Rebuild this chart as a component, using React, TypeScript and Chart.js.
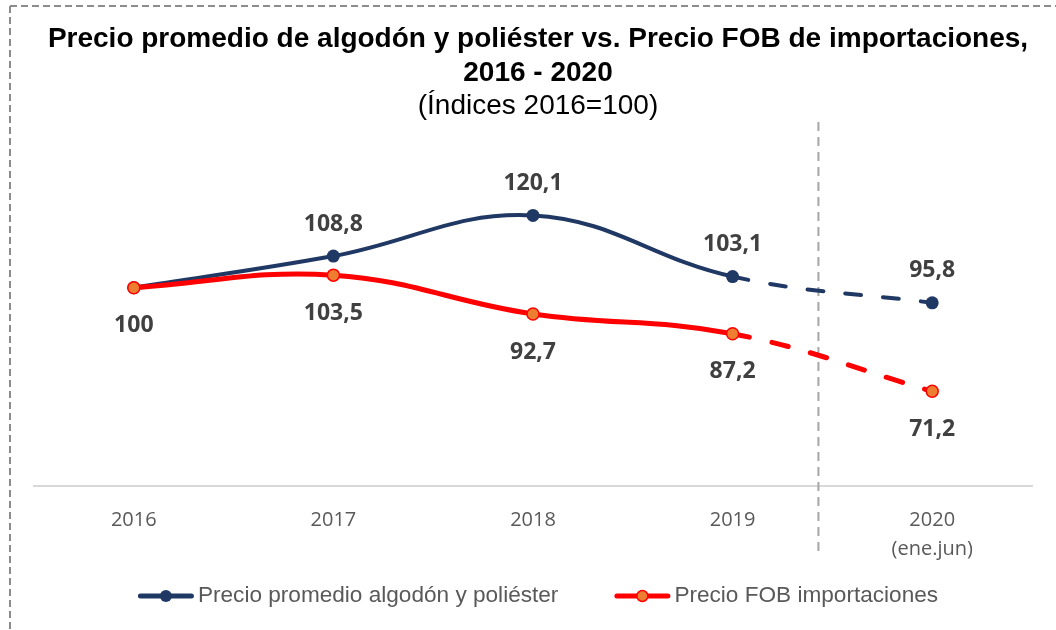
import { useEffect, useRef } from "react";
import { Chart, registerables } from "chart.js";

Chart.register(...registerables);

// ---- data ----
const CATEGORIES: (string | string[])[] = ["2016", "2017", "2018", "2019", ["2020", "(ene.jun)"]];
const ALGODON_POLIESTER = [100, 108.8, 120.1, 103.1, 95.8];
const FOB_IMPORTACIONES = [100, 103.5, 92.7, 87.2, 71.2];
const SERIES_NAMES = ["Precio promedio algodón y poliéster", "Precio FOB importaciones"];
const TITLE_LINES = [
  "Precio promedio de algodón y poliéster vs. Precio FOB de importaciones,",
  "2016 - 2020",
];
const SUBTITLE = "(Índices 2016=100)";

// ---- scale / styling ----
const Y_MIN = 45;
const Y_MAX = 145;
const PARTIAL_FROM = 3; // segments starting here are the partial-year (dashed) part
const DIVIDER_AT = 3.43; // category position of the vertical separator
const NAVY = "#203864";
const RED = "#FF0000";
const ORANGE = "#ED7D31";
const LABEL_GREY = "#404040";
const AXIS_GREY = "#595959";

const fmt = (v: number) => String(v).replace(".", ",");

// dashed frame around the whole figure (top and left edges)
const framePlugin = {
  id: "frame",
  beforeDraw(chart: any) {
    const { ctx, width, height } = chart;
    ctx.save();
    ctx.strokeStyle = "#8C8C8C";
    ctx.lineWidth = 2;
    ctx.setLineDash([7, 4]);
    ctx.beginPath();
    ctx.moveTo(10, 6);
    ctx.lineTo(width, 6);
    ctx.moveTo(10, 6);
    ctx.lineTo(10, height);
    ctx.stroke();
    ctx.restore();
  },
};

// vertical dashed separator before the partial year
const dividerPlugin = {
  id: "divider",
  beforeDatasetsDraw(chart: any) {
    const { ctx, chartArea, scales } = chart;
    const x0 = scales.x.getPixelForValue(Math.floor(DIVIDER_AT));
    const x1 = scales.x.getPixelForValue(Math.ceil(DIVIDER_AT));
    const x = x0 + (x1 - x0) * (DIVIDER_AT - Math.floor(DIVIDER_AT));
    ctx.save();
    ctx.strokeStyle = "#A6A6A6";
    ctx.lineWidth = 2;
    ctx.setLineDash([9, 6]);
    ctx.beginPath();
    ctx.moveTo(x, chartArea.top - 4);
    ctx.lineTo(x, chartArea.bottom + 71);
    ctx.stroke();
    ctx.restore();
  },
};

// value labels above (navy) / below (red) each point
const valueLabelPlugin = {
  id: "valueLabels",
  afterDatasetsDraw(chart: any) {
    const { ctx } = chart;
    ctx.save();
    ctx.font = "bold 23px 'Open Sans'";
    ctx.fillStyle = LABEL_GREY;
    ctx.textAlign = "center";
    ctx.textBaseline = "middle";
    chart.data.datasets.forEach((ds: any, i: number) => {
      const meta = chart.getDatasetMeta(i);
      const hidden: number[] = ds.hiddenLabels || [];
      meta.data.forEach((pt: any, j: number) => {
        if (hidden.includes(j)) return;
        ctx.fillText(fmt(ds.data[j]), pt.x, pt.y + ds.labelOffset);
      });
    });
    ctx.restore();
  },
};

// legend row: line + marker glyph followed by the series name
const legendPlugin = {
  id: "legendRow",
  afterDraw(chart: any) {
    const { ctx, width, height } = chart;
    const pad = chart.options.layout.padding;
    const cx = (pad.left + width - pad.right) / 2;
    const cy = height - 34;
    const lineW = 56;
    const gapText = 4;
    const gapItem = 56;
    ctx.save();
    ctx.font = "22.6px 'Liberation Sans'";
    const widths = SERIES_NAMES.map((t) => ctx.measureText(t).width);
    const total = widths.reduce((a, w) => a + lineW + gapText + w, 0) + gapItem * (SERIES_NAMES.length - 1);
    let x = cx - total / 2;
    chart.data.datasets.forEach((ds: any, i: number) => {
      ctx.strokeStyle = ds.borderColor;
      ctx.lineWidth = 5;
      ctx.lineCap = "round";
      ctx.setLineDash([]);
      ctx.beginPath();
      ctx.moveTo(x + 2.5, cy);
      ctx.lineTo(x + lineW - 2.5, cy);
      ctx.stroke();
      ctx.beginPath();
      ctx.arc(x + lineW / 2, cy, ds.pointRadius - 0.5, 0, Math.PI * 2);
      ctx.fillStyle = ds.pointBackgroundColor;
      ctx.fill();
      if (ds.pointBorderWidth > 0) {
        ctx.lineWidth = ds.pointBorderWidth;
        ctx.strokeStyle = ds.pointBorderColor;
        ctx.stroke();
      }
      ctx.fillStyle = AXIS_GREY;
      ctx.textAlign = "left";
      ctx.textBaseline = "middle";
      ctx.fillText(SERIES_NAMES[i], x + lineW + gapText, cy);
      x += lineW + gapText + widths[i] + gapItem;
    });
    ctx.restore();
  },
};

export default function App() {
  const canvasRef = useRef<HTMLCanvasElement | null>(null);

  useEffect(() => {
    if (!canvasRef.current) return;
    const chart = new Chart(canvasRef.current, {
      type: "line",
      data: {
        labels: CATEGORIES,
        datasets: [
          {
            label: SERIES_NAMES[0],
            data: ALGODON_POLIESTER,
            borderColor: NAVY,
            backgroundColor: NAVY,
            borderWidth: 4,
            borderCapStyle: "round",
            tension: 0.4,
            pointRadius: 6.5,
            pointBackgroundColor: NAVY,
            pointBorderColor: NAVY,
            pointBorderWidth: 0,
            order: 1,
            labelOffset: -32,
            hiddenLabels: [0], // shared base-year point is labelled once, below
            segment: {
              borderDash: (c: any) => (c.p0DataIndex >= PARTIAL_FROM ? [16, 22] : undefined),
            },
          } as any,
          {
            label: SERIES_NAMES[1],
            data: FOB_IMPORTACIONES,
            borderColor: RED,
            backgroundColor: ORANGE,
            borderWidth: 5,
            borderCapStyle: "round",
            tension: 0.4,
            pointRadius: 6,
            pointBackgroundColor: ORANGE,
            pointBorderColor: RED,
            pointBorderWidth: 1.5,
            order: 0,
            labelOffset: 38,
            segment: {
              borderDash: (c: any) => (c.p0DataIndex >= PARTIAL_FROM ? [17, 23] : undefined),
            },
          } as any,
        ],
      },
      options: {
        responsive: false,
        animation: false,
        layout: { padding: { left: 34, right: 14, top: 0, bottom: 46.5 } },
        plugins: {
          legend: { display: false },
          tooltip: { enabled: false },
          title: {
            display: true,
            text: TITLE_LINES,
            color: "#000000",
            font: { family: "'Liberation Sans'", size: 28, weight: "bold", lineHeight: 34 / 28 },
            padding: { top: 21.8, bottom: 0 },
          },
          subtitle: {
            display: true,
            text: SUBTITLE,
            color: "#000000",
            font: { family: "'Liberation Sans'", size: 28, weight: "normal", lineHeight: 1.2 },
            padding: { top: 0, bottom: 2.5 },
          },
        },
        scales: {
          x: {
            offset: true,
            grid: { display: false, drawTicks: false, offset: true },
            border: { display: true, color: "#D9D9D9", width: 2 },
            ticks: {
              color: AXIS_GREY,
              font: { family: "'Open Sans'", size: 20, lineHeight: 1.45 },
              padding: 20,
              autoSkip: false,
              maxRotation: 0,
            },
          },
          y: {
            position: "right",
            min: Y_MIN,
            max: Y_MAX,
            grid: { display: false, drawTicks: false },
            border: { display: false },
            ticks: { display: false },
            afterFit: (s: any) => {
              s.width = 10;
            },
          },
        },
      },
      plugins: [framePlugin, dividerPlugin, valueLabelPlugin, legendPlugin],
    });
    return () => chart.destroy();
  }, []);

  return (
    <div style={{ position: "fixed", left: 0, top: 0, width: 1056, height: 630, background: "#fff" }}>
      <canvas ref={canvasRef} width={1056} height={630} style={{ display: "block" }} />
    </div>
  );
}
